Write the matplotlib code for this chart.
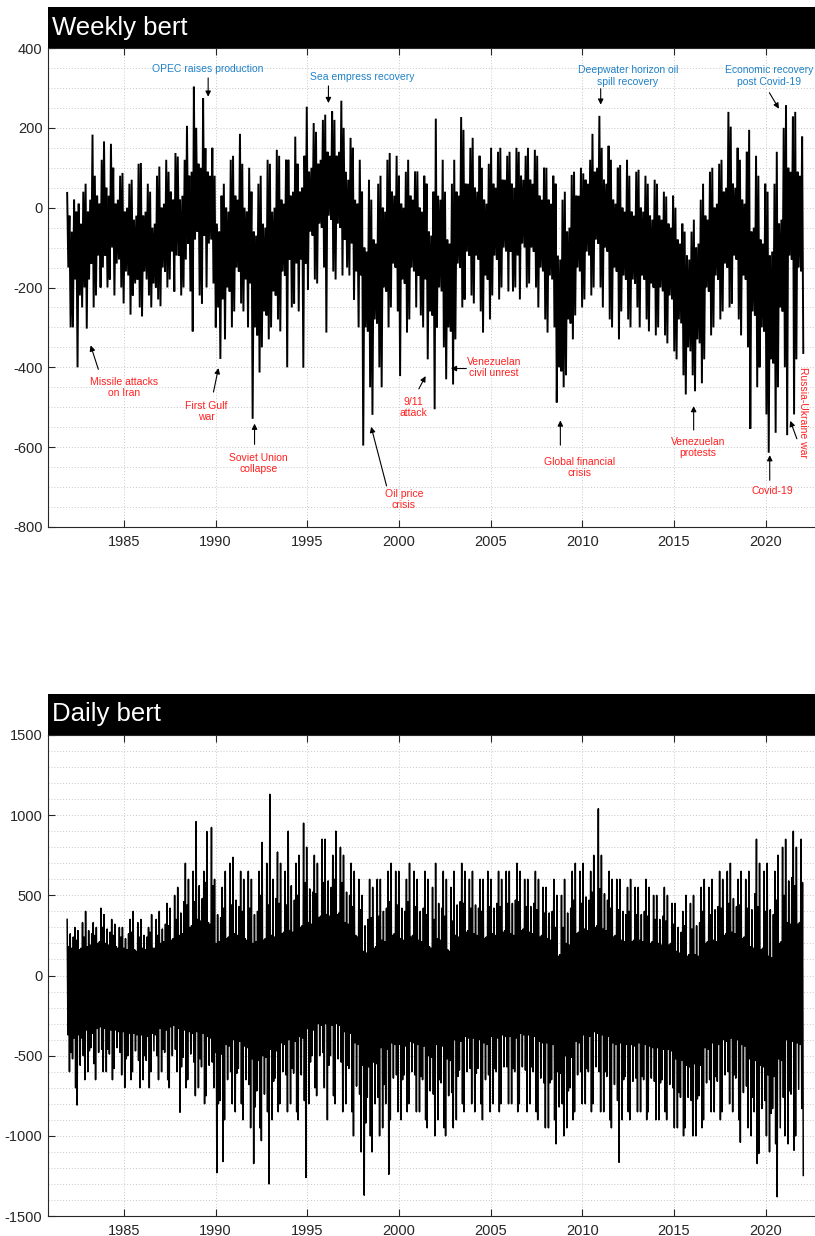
import numpy as np
import matplotlib
matplotlib.use("Agg")
import matplotlib.pyplot as plt
from matplotlib.patches import Rectangle
from matplotlib.ticker import MultipleLocator

plt.rcParams['font.family'] = ['Liberation Sans', 'DejaVu Sans']
plt.rcParams['axes.unicode_minus'] = False

# ---------------- data ----------------
# time span of both series (decimal years)
t_start, t_end = 1981.9, 2022.05

# Weekly series: successive local peaks / troughs, one row per year (4 quarters x 4 readings)
weekly_vals = [
    37, -150, -20, -300,   -60, -300, 20, -180,   -10, -400, 10, -220,   -40, -250, 40, -200,     # 1982
    60, -303, -10, -180,   20, -140, 183, -250,   80, -220, 30, -120,    10, -200, 120, -150,      # 1983
    166, -120, 50, -200,   30, -180, 160, -100,   100, -220, 10, -140,   20, -130, 80, -200,       # 1984
    87, -240, -10, -160,   0, -170, 60, -268,     70, -220, -30, -190,   -20, -180, 110, -250,     # 1985
    112, -272, -20, -160,  -10, -180, 60, -220,   40, -250, -50, -190,   -40, -200, 80, -230,      # 1986
    103, -247, 0, -150,    10, -160, 120, -200,   90, -180, 40, -110,    20, -210, 137, -120,      # 1987
    128, -120, 20, -220,   30, -200, 120, -130,   205, -90, 80, -210,    90, -310, 303, -80,       # 1988
    200, -60, 110, -220,   100, -240, 274, -70,   149, -200, 90, -90,    80, -80, 150, -190,       # 1989
    80, -300, -40, -250,   -60, -379, 30, -230,   60, -330, 0, -200,     -10, -210, 120, -300,     # 1990
    130, -260, 30, -150,   20, -160, 185, -240,   110, -260, 0, -180,    -10, -300, 100, -190,     # 1991
    40, -529, -60, -300,   -70, -320, 60, -413,   80, -350, -40, -260,   -50, -270, 120, -330,     # 1992
    110, -300, -10, -210,  0, -220, 145, -280,    130, -310, 20, -160,   10, -170, 120, -400,      # 1993
    120, -130, 30, -250,   40, -240, 178, -140,   110, -260, 40, -130,   50, -401, 130, -140,      # 1994
    253, -205, 90, -60,    100, -70, 212, -180,   190, -190, 110, -40,   120, -50, 220, -150,      # 1995
    233, -313, 140, -20,   130, -30, 241, -160,   220, -180, 130, -40,   140, -50, 268, -170,      # 1996
    200, -80, 90, -150,    70, -170, 175, -90,    150, -230, 20, -160,   10, -300, 120, -170,      # 1997
    40, -596, -100, -300,  -110, -310, 70, -450,  20, -519, -80, -280,   -90, -290, 60, -400,      # 1998
    80, -450, 0, -200,     -10, -210, 120, -300,  137, -250, 40, -140,   30, -150, 130, -260,      # 1999
    80, -422, 10, -180,    0, -190, 90, -313,     120, -280, 30, -150,   20, -160, 91, -250,       # 2000
    91, -170, 0, -270,     -10, -300, 80, -180,   60, -380, -60, -260,   -70, -270, 40, -505,      # 2001
    223, -300, 30, -200,   20, -210, 120, -350,   40, -430, -80, -300,   -90, -310, 60, -443,      # 2002
    120, -330, 40, -140,   30, -150, 227, -250,   195, -230, 60, -110,   60, -120, 150, -220,      # 2003
    175, -240, 50, -120,   40, -130, 130, -260,   100, -313, 20, -170,   10, -180, 110, -280,      # 2004
    150, -220, 60, -120,   50, -130, 140, -230,   150, -200, 70, -100,   70, -110, 130, -210,      # 2005
    140, -110, 60, -210,   50, -200, 150, -120,   140, -230, 80, -90,    70, -100, 130, -200,      # 2006
    150, -190, 70, -100,   60, -110, 145, -200,   130, -250, 30, -150,   20, -160, 100, -280,      # 2007
    100, -313, 20, -170,   10, -180, 80, -300,    60, -488, -120, -400,  -130, -410, 20, -450,     # 2008
    40, -420, -60, -280,   -50, -290, 82, -330,   90, -270, 30, -150,    30, -160, 100, -250,      # 2009
    86, -230, 70, -110,    60, -120, 120, -220,   185, -200, 90, -80,    100, -90, 230, -200,      # 2010
    150, -250, 70, -100,   60, -110, 155, -280,   120, -300, 20, -150,   10, -160, 100, -330,      # 2011
    107, -260, 0, -170,    -10, -180, 120, -280,  80, -300, -10, -180,   -20, -190, 90, -250,      # 2012
    95, -300, 0, -170,     -10, -180, 80, -280,   60, -310, -20, -190,   -30, -200, 70, -320,      # 2013
    60, -300, -20, -200,   -30, -210, 40, -320,   28, -340, -40, -220,   -50, -230, 30, -360,      # 2014
    0, -380, -80, -280,    -90, -290, -40, -420,  -60, -468, -120, -350, -130, -360, -60, -420,    # 2015
    -30, -460, -100, -330, -90, -340, 20, -440,   60, -380, -20, -200,   -30, -210, 90, -320,      # 2016
    100, -300, 0, -170,    10, -180, 110, -280,   120, -260, 40, -140,   50, -150, 240, -250,      # 2017
    203, -240, 60, -120,   50, -130, 150, -280,   120, -320, 20, -170,   10, -180, 140, -350,      # 2018
    195, -554, -60, -260,  -50, -270, 130, -450,  80, -400, -80, -300,   -90, -310, 60, -518,      # 2019
    40, -614, -120, -380,  -110, -390, 60, -564,  140, -450, -40, -250,  -30, -260, 200, -400,     # 2020
    257, -570, 100, -120,  90, -130, 228, -518,   240, -380, 90, -150,   80, -160, 178, -364,      # 2021
]

# Daily series: successive local peaks / troughs, one row per year (4 quarters x 6 readings)
daily_vals = [
    350, -370, 180, -600, 260, -480,   170, -520, 240, -390, 300, -700,   220, -808, 280, -370, 160, -560,   170, -390, 330, -500, 240, -650,   # 1982
    400, -340, 180, -600, 280, -470,   190, -450, 260, -360, 330, -550,   250, -650, 300, -330, 200, -480,   210, -320, 420, -460, 300, -600,   # 1983
    380, -330, 200, -600, 290, -460,   190, -490, 270, -340, 350, -650,   250, -580, 320, -340, 180, -450,   170, -350, 300, -480, 240, -620,   # 1984
    300, -350, 170, -700, 230, -520,   160, -500, 260, -360, 350, -650,   270, -600, 400, -360, 160, -470,   150, -370, 330, -530, 240, -700,   # 1985
    350, -370, 170, -650, 250, -500,   160, -530, 240, -380, 300, -700,   270, -600, 380, -360, 170, -470,   170, -370, 350, -500, 250, -650,   # 1986
    400, -330, 200, -600, 290, -460,   210, -480, 320, -340, 450, -650,   310, -700, 420, -320, 220, -500,   230, -310, 500, -460, 350, -600,   # 1987
    550, -330, 250, -853, 390, -570,   260, -510, 460, -340, 700, -700,   440, -650, 600, -350, 300, -490,   310, -360, 650, -540, 460, -750,   # 1988
    960, -350, 350, -700, 560, -520,   340, -570, 480, -360, 650, -800,   580, -750, 898, -380, 330, -560,   320, -390, 923, -540, 560, -700,   # 1989
    600, -480, 200, -1230, 380, -800,  210, -780, 360, -490, 550, -1160,  420, -900, 650, -430, 230, -650,   240, -440, 700, -600, 440, -800,   # 1990
    737, -400, 260, -850, 470, -610,   250, -580, 430, -410, 650, -800,   400, -900, 600, -440, 230, -650,   220, -450, 650, -680, 420, -950,   # 1991
    600, -520, 200, -1173, 380, -820,  210, -720, 400, -530, 650, -950,   500, -1030, 830, -500, 220, -740,  230, -510, 700, -850, 440, -1300,  # 1992
    1130, -460, 250, -900, 600, -660,  240, -640, 480, -470, 770, -850,   450, -800, 700, -420, 260, -600,   270, -430, 650, -620, 440, -850,   # 1993
    900, -400, 280, -800, 560, -580,   270, -610, 470, -410, 700, -850,   500, -900, 750, -380, 300, -620,   310, -390, 950, -780, 580, -1260,  # 1994
    800, -330, 330, -800, 540, -540,   320, -500, 520, -340, 750, -700,   510, -750, 700, -300, 360, -500,   370, -310, 850, -480, 580, -700,   # 1995
    850, -300, 380, -900, 590, -560,   370, -500, 550, -310, 750, -750,   600, -800, 900, -300, 380, -520,   390, -310, 800, -540, 580, -850,   # 1996
    750, -350, 330, -800, 520, -560,   320, -580, 500, -360, 700, -850,   430, -1000, 650, -420, 250, -690,  240, -430, 600, -740, 410, -1100,  # 1997
    500, -560, 150, -1370, 310, -920,  140, -760, 350, -570, 600, -1000,  360, -1100, 550, -540, 170, -800,  180, -550, 600, -760, 370, -1000,  # 1998
    600, -450, 220, -950, 400, -680,   210, -800, 420, -460, 650, -1240,  460, -900, 700, -420, 250, -640,   260, -430, 650, -620, 440, -850,   # 1999
    650, -430, 230, -900, 420, -650,   220, -620, 400, -440, 600, -850,   460, -800, 700, -410, 240, -600,   250, -420, 650, -620, 430, -850,   # 2000
    600, -430, 220, -850, 400, -630,   210, -650, 420, -440, 650, -900,   380, -950, 600, -500, 180, -720,   170, -510, 550, -740, 350, -1000,  # 2001
    700, -430, 230, -900, 450, -650,   220, -670, 420, -440, 650, -950,   370, -1000, 600, -520, 160, -750,  150, -530, 550, -730, 340, -950,   # 2002
    650, -400, 250, -900, 440, -630,   240, -590, 460, -410, 700, -800,   450, -850, 650, -380, 270, -600,   280, -390, 600, -580, 420, -800,   # 2003
    650, -390, 260, -850, 440, -610,   250, -580, 420, -400, 600, -800,   400, -900, 600, -420, 230, -650,   240, -430, 650, -620, 430, -850,   # 2004
    600, -380, 260, -800, 420, -580,   250, -600, 450, -390, 650, -850,   430, -800, 600, -370, 270, -570,   280, -380, 650, -570, 450, -800,   # 2005
    650, -380, 260, -800, 450, -580,   250, -600, 470, -390, 700, -850,   460, -800, 650, -360, 280, -570,   290, -370, 600, -590, 430, -850,   # 2006
    600, -370, 270, -800, 430, -570,   260, -600, 450, -380, 650, -850,   410, -900, 600, -410, 240, -640,   250, -420, 550, -670, 390, -950,   # 2007
    550, -420, 230, -950, 390, -670,   220, -650, 400, -430, 600, -900,   300, -1050, 500, -600, 120, -820,  130, -610, 500, -800, 300, -1000,  # 2008
    600, -500, 200, -950, 390, -720,   190, -700, 420, -510, 650, -900,   470, -850, 700, -410, 260, -620,   270, -420, 650, -600, 450, -800,   # 2009
    700, -370, 290, -800, 490, -580,   280, -600, 470, -380, 650, -850,   520, -800, 750, -350, 300, -570,   310, -360, 1040, -600, 540, -850,  # 2010
    750, -370, 290, -850, 510, -600,   280, -630, 470, -380, 650, -900,   420, -950, 600, -420, 240, -680,   250, -430, 600, -780, 410, -1165,  # 2011
    600, -420, 220, -900, 400, -650,   210, -630, 380, -430, 550, -850,   400, -900, 600, -430, 210, -660,   220, -440, 550, -640, 380, -850,   # 2012
    550, -420, 220, -850, 380, -630,   210, -650, 400, -430, 600, -900,   370, -850, 550, -440, 200, -640,   210, -450, 500, -660, 350, -900,   # 2013
    500, -450, 200, -900, 350, -670,   190, -650, 370, -460, 550, -850,   340, -900, 500, -460, 190, -680,   200, -470, 450, -700, 320, -950,   # 2014
    450, -520, 150, -950, 300, -730,   140, -760, 270, -530, 400, -1000,  310, -950, 500, -560, 120, -760,   130, -570, 450, -780, 290, -1000,  # 2015
    500, -550, 130, -1000, 310, -770,  120, -750, 330, -560, 550, -950,   400, -900, 600, -450, 200, -670,   210, -460, 550, -650, 380, -850,   # 2016
    600, -420, 220, -850, 410, -630,   210, -660, 430, -430, 650, -900,   420, -850, 600, -400, 250, -620,   260, -410, 650, -600, 450, -800,   # 2017
    700, -390, 270, -850, 480, -620,   260, -640, 430, -400, 600, -900,   440, -1040, 650, -430, 230, -730,  240, -440, 600, -690, 420, -950,   # 2018
    650, -520, 180, -1000, 410, -760,  170, -850, 510, -530, 850, -1173,  430, -1110, 700, -560, 160, -830,  170, -570, 650, -780, 400, -1000,  # 2019
    700, -620, 120, -1100, 410, -860,  110, -830, 380, -630, 650, -1050,  470, -1380, 750, -520, 200, -950,  210, -530, 800, -760, 500, -1000,  # 2020
    850, -400, 330, -1050, 590, -720,  320, -740, 610, -410, 900, -1090,  560, -1000, 800, -420, 320, -710,  330, -430, 850, -830, 580, -1247,  # 2021
]

x_ticks = [1985, 1990, 1995, 2000, 2005, 2010, 2015, 2020]

# annotations: (text, color, text_x, text_y, tail_x, tail_y, head_x, head_y)
RED = '#ff2020'
BLUE = '#1f82c8'
w_notes = [
    ("OPEC raises production", BLUE, 1989.59, 348, 1989.59, 325, 1989.59, 278),
    ("Sea empress recovery", BLUE, 1998.0, 328, 1996.15, 305, 1996.15, 262),
    ("Deepwater horizon oil\nspill recovery", BLUE, 2012.49, 330, 2011.0, 298, 2011.0, 258),
    ("Economic recovery\npost Covid-19", BLUE, 2020.19, 330, 2020.2, 288, 2020.72, 248),
    ("Missile attacks\non Iran", RED, 1985.0, -450, 1983.6, -405, 1983.18, -345),
    ("First Gulf\nwar", RED, 1989.48, -510, 1989.88, -462, 1990.15, -402),
    ("Soviet Union\ncollapse", RED, 1992.34, -641, 1992.12, -593, 1992.12, -541),
    ("Oil price\ncrisis", RED, 2000.26, -731, 1999.32, -697, 1998.48, -549),
    ("9/11\nattack", RED, 2000.76, -500, 2001.08, -454, 2001.45, -422),
    ("Venezuelan\ncivil unrest", RED, 2005.18, -400, 2003.67, -403, 2002.83, -403),
    ("Global financial\ncrisis", RED, 2009.86, -651, 2008.8, -595, 2008.8, -533),
    ("Venezuelan\nprotests", RED, 2016.29, -600, 2016.07, -557, 2016.07, -497),
    ("Covid-19", RED, 2020.37, -711, 2020.22, -683, 2020.22, -620),
]
rot_note = ("Russia-Ukraine war", RED, 2022.03, -514, 2021.7, -579, 2021.34, -534)

# ---------------- figure ----------------
W, H = 815, 1236
fig = plt.figure(figsize=(W / 100, H / 100), dpi=100)
SPINE = '#262626'


def style_axes(ax, ylim, ymajor, yminor):
    x_left = 1985 - 76 / 18.334
    x_right = 2020 + 64.3 / 18.334
    ax.set_xlim(x_left, x_right)
    ax.set_ylim(*ylim)
    ax.set_xticks(x_ticks)
    ax.set_xticklabels([str(v) for v in x_ticks])
    ax.yaxis.set_major_locator(MultipleLocator(ymajor))
    ax.yaxis.set_minor_locator(MultipleLocator(yminor))
    ax.tick_params(axis='both', which='major', direction='in', length=5, width=0.8,
                   colors=SPINE, labelsize=10.5, top=True, right=False)
    ax.tick_params(axis='y', which='minor', length=0)
    ax.tick_params(axis='x', pad=6)
    ax.tick_params(axis='y', pad=4)
    ax.grid(True, axis='x', which='major', linestyle=(0, (1, 2)), color='#c8c8c8', lw=0.7)
    ax.grid(True, axis='y', which='both', linestyle=(0, (1, 2)), color='#c8c8c8', lw=0.7)
    ax.set_axisbelow(True)
    for s in ['left', 'bottom', 'top']:
        ax.spines[s].set_color(SPINE)
        ax.spines[s].set_linewidth(0.8)
    ax.spines['right'].set_visible(False)


def arrow(ax, tail, head):
    ax.annotate('', xy=head, xytext=tail,
                arrowprops=dict(arrowstyle='-|>', color='black', lw=0.8,
                                mutation_scale=8, shrinkA=0, shrinkB=0))


# ---- weekly ----
ax1 = fig.add_axes([48 / W, 1 - 527 / H, 782 / W, 479 / H])
tw = np.linspace(t_start, t_end, len(weekly_vals))
ax1.plot(tw, weekly_vals, color='black', lw=1.4, solid_joinstyle='miter')
style_axes(ax1, (-800, 400), 200, 50)

for txt, col, tx, ty, ax_, ay_, hx, hy in w_notes:
    ax1.text(tx, ty, txt, color=col, fontsize=7.5, ha='center', va='center',
             linespacing=1.15)
    arrow(ax1, (ax_, ay_), (hx, hy))
txt, col, tx, ty, ax_, ay_, hx, hy = rot_note
ax1.text(tx, ty, txt, color=col, fontsize=7.5, ha='center', va='center', rotation=-90)
arrow(ax1, (ax_, ay_), (hx, hy))

# ---- daily ----
ax2 = fig.add_axes([48 / W, 1 - 1216 / H, 782 / W, 481 / H])
td = np.linspace(t_start, t_end, len(daily_vals))
ax2.plot(td, daily_vals, color='black', lw=1.1)
style_axes(ax2, (-1500, 1500), 500, 100)

# ---- title bars ----
for top_px, bot_px, label in [(7, 48, 'Weekly bert'), (694, 735, 'Daily bert')]:
    fig.add_artist(Rectangle((48 / W, 1 - bot_px / H), 1 - 48 / W, (bot_px - top_px) / H,
                             transform=fig.transFigure, facecolor='black',
                             edgecolor='none', zorder=5))
    fig.text(52 / W, 1 - (top_px + bot_px) / 2 / H, label, color='white', fontsize=18.5,
             ha='left', va='center', zorder=6)

fig.savefig('out.png', dpi=100)
